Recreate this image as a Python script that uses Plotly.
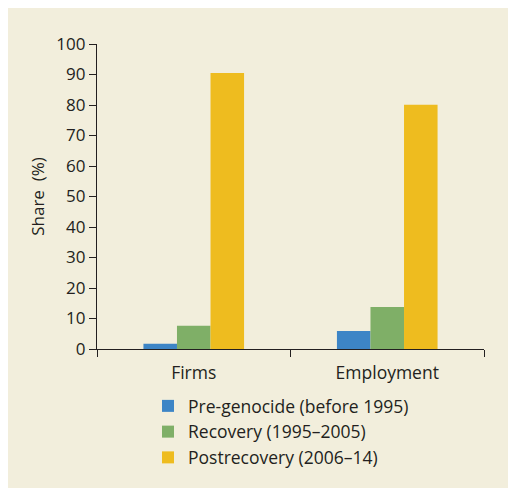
import plotly.graph_objects as go

categories = ["Firms", "Employment"]
series_names = ["Pre-genocide (before 1995)", "Recovery (1995\u20132005)", "Postrecovery (2006\u201314)"]
pre_genocide = [1.7, 5.9]
recovery = [7.6, 13.8]
postrecovery = [90.5, 80.1]
colors = ["#3D85C6", "#7FAF67", "#EEBC1F"]
y_ticks = list(range(0, 101, 10))

W, H = 516, 488
L, R, T, B = 89, 40, 36, 147
pw, ph = W - L - R, H - T - B

fig = go.Figure()
for name, vals, c in zip(series_names, [pre_genocide, recovery, postrecovery], colors):
    fig.add_trace(go.Bar(x=categories, y=vals, name=name, marker=dict(color=c, line=dict(width=0))))

font_family = "Open Sans"
txt = "#231F20"

def px_x(p):
    return (p - L) / pw

def px_y(p):
    return (H - B - p) / ph

fig.update_layout(
    width=W, height=H,
    margin=dict(l=L, r=R, t=T, b=B, pad=0, autoexpand=False),
    paper_bgcolor="#F2EEDC", plot_bgcolor="#F2EEDC",
    barmode="group", bargap=0.48, bargroupgap=0,
    font=dict(family=font_family, size=17, color=txt),
    showlegend=True,
    legend=dict(x=px_x(140), y=px_y(380), xanchor="left", yanchor="top",
                bgcolor="rgba(0,0,0,0)", font=dict(size=17.5, color=txt),
                traceorder="normal", itemwidth=30, tracegroupgap=0),
    xaxis=dict(showline=True, linecolor=txt, linewidth=1.3, ticks="outside",
               tickson="boundaries", ticklen=7, tickcolor=txt, tickwidth=1.3,
               showgrid=False, zeroline=False, tickfont=dict(size=17.5),
               ticklabelstandoff=8, automargin=False),
    yaxis=dict(range=[0, 100], tickvals=y_ticks, showline=True, linecolor=txt,
               linewidth=1.3, ticks="outside", ticklen=7, tickcolor=txt, tickwidth=1.3,
               showgrid=False, zeroline=False, tickfont=dict(size=17),
               automargin=False,
               title=dict(text="Share  (%)", font=dict(size=17), standoff=7)),
)

fig.write_html("out.html")
